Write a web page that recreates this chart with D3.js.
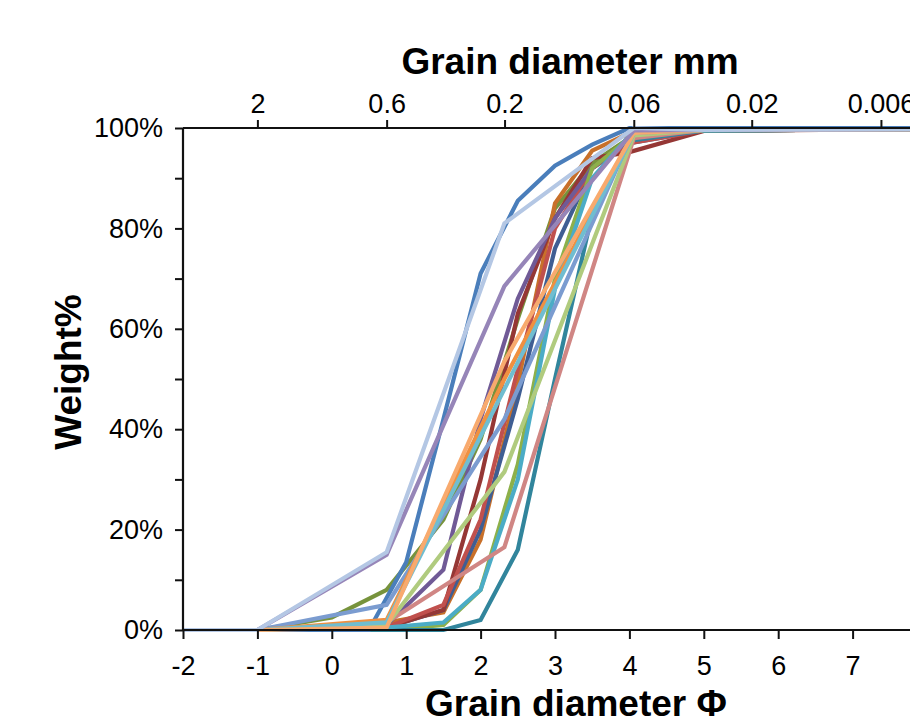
<!DOCTYPE html>
<html>
<head>
<meta charset="utf-8">
<script src="https://cdn.jsdelivr.net/npm/d3@7"></script>
<style>
  html, body { margin: 0; padding: 0; background: #fff; overflow: hidden; }
  svg { display: block; font-family: "Liberation Sans", Arial, Helvetica, sans-serif; }
</style>
</head>
<body>
<svg id="chart" width="910" height="719"></svg>
<script>
// ---- grids (phi positions of sieve points) ----
const phiFull  = [-2, -1, 0, 0.5, 1, 1.5, 2, 2.5, 3, 3.5, 4, 5, 8];
const phiSieve = [-2, -1, 0, 0.737, 1.5, 2, 2.5, 3, 3.5, 4, 5, 8];
const phiMm    = [-2, -1, 0.737, 2.32, 4.06, 5, 8];

// ---- cumulative weight % series ----
const seriesNames = ["green","orangeBrown","navy","darkRed","red","purple","green2","teal","aqua",
  "darkBlue","salmon","lightGreen","mediumBlue","brightOrange","lightTeal","peach","lavender","paleBlue"];
const seriesColors = ["#77933C","#C8702A","#3F5E93","#953735","#C0504D","#705A96","#8DB04A","#31859C","#4BACC6",
  "#4A7EBB","#D08684","#B0CB7E","#7B9CD0","#F09040","#70BDD0","#F8AA6E","#9685B8","#B4C7E4"];
const seriesGrid = ["sieve","sieve","sieve","sieve","sieve","sieve","sieve","sieve","sieve",
  "full","mm","mm","mm","mm","mm","mm","mm","mm"];

const green        = [0, 0, 2.5, 8, 22, 38, 62, 84, 93, 98, 99.5, 99.8];
const orangeBrown  = [0, 0, 0, 1.5, 3.5, 18, 49, 85, 95.5, 99, 99.6, 99.8];
const navy         = [0, 0, 0, 0.5, 4, 20, 46, 76, 92, 97, 99.5, 99.8];
const darkRed      = [0, 0, 0, 0.5, 4, 30, 63, 82, 94, 95.2, 99.4, 99.8];
const red          = [0, 0, 0, 0.5, 5, 22, 52, 80, 92, 97, 99.5, 99.8];
const purple       = [0, 0, 0, 1, 12, 42, 66, 82, 92, 97.5, 99.5, 99.8];
const green2       = [0, 0, 0, 0, 1, 8, 33, 70, 92, 98, 99.5, 99.8];
const teal         = [0, 0, 0, 0, 0, 2, 16, 50, 83, 97.5, 99.5, 99.8];
const aqua         = [0, 0, 0, 0.5, 1.5, 8, 30, 68, 90, 98.5, 99.5, 99.8];
const darkBlue     = [0, 0, 0, 0, 13.5, 42, 71, 85.5, 92.5, 96.7, 100, 100, 100];
const salmon       = [0, 0, 1.5, 16.5, 98, 99.6, 99.8];
const lightGreen   = [0, 0, 1, 31.5, 98.5, 99.6, 99.8];
const mediumBlue   = [0, 0, 5, 42, 99.5, 99.6, 99.8];
const brightOrange = [0, 0, 2, 50, 99, 99.6, 99.8];
const lightTeal    = [0, 0, 1.5, 48, 99, 99.6, 99.8];
const peach        = [0, 0, 0.5, 53.5, 99, 99.6, 99.8];
const lavender     = [0, 0, 15, 68.5, 99.5, 99.6, 99.8];
const paleBlue     = [0, 0, 15.5, 81, 100, 99.6, 99.8];

const seriesValues = [green, orangeBrown, navy, darkRed, red, purple, green2, teal, aqua,
  darkBlue, salmon, lightGreen, mediumBlue, brightOrange, lightTeal, peach, lavender, paleBlue];
const grids = { full: phiFull, sieve: phiSieve, mm: phiMm };

// ---- axis ticks ----
const phiTicks = [-2, -1, 0, 1, 2, 3, 4, 5, 6, 7];
const phiTickLabels = ["-2", "-1", "0", "1", "2", "3", "4", "5", "6", "7"];
const mmTicks = [2, 0.6, 0.2, 0.06, 0.02, 0.006];
const mmTickLabels = ["2", "0.6", "0.2", "0.06", "0.02", "0.006"];
const pctTicks = [0, 10, 20, 30, 40, 50, 60, 70, 80, 90, 100];

// ---- layout ----
const svg = d3.select("#chart");
const plotL = 183, plotR = 927, plotT = 128, plotB = 630;
const x = d3.scaleLinear().domain([-2, 8]).range([plotL, plotR]);
const y = d3.scaleLinear().domain([0, 100]).range([plotB, plotT]);

const line = d3.line().x(d => x(d[0])).y(d => y(d[1]));

const gLines = svg.append("g");
seriesValues.forEach((vals, i) => {
  const g = grids[seriesGrid[i]];
  const pts = vals.map((v, j) => [g[j], v]);
  gLines.append("path")
    .attr("d", line(pts))
    .attr("fill", "none")
    .attr("stroke", seriesColors[i])
    .attr("stroke-width", 4.2)
    .attr("stroke-linejoin", "miter");
});

const fontTick = 27;

// left axis
const yAxis = d3.axisLeft(y).tickValues(pctTicks).tickSize(8).tickPadding(12)
  .tickFormat(d => d % 20 === 0 ? d + "%" : "");
const gy = svg.append("g").attr("transform", `translate(${plotL},0)`).call(yAxis);

// bottom axis
const xAxis = d3.axisBottom(x).tickValues(phiTicks).tickSize(9).tickPadding(17)
  .tickFormat((d, i) => phiTickLabels[i]);
const gx = svg.append("g").attr("transform", `translate(0,${plotB})`).call(xAxis);

// top axis
const xTop = d3.axisTop(x).tickValues(mmTicks.map(d => -Math.log2(d))).tickSize(8).tickPadding(7)
  .tickFormat((d, i) => mmTickLabels[i]);
const gt = svg.append("g").attr("transform", `translate(0,${plotT})`).call(xTop);

[gy, gx, gt].forEach(g => {
  g.select(".domain").attr("stroke", "#111").attr("stroke-width", 2.2);
  g.selectAll(".tick line").attr("stroke", "#111").attr("stroke-width", 2);
  g.selectAll("text").attr("fill", "#000").style("font-size", fontTick + "px")
    .style("font-family", '"Liberation Sans", Arial, sans-serif');
});
gy.select(".domain").attr("d", `M0,${plotB}V${plotT}`);
gx.select(".domain").attr("d", `M${plotL},0H${plotR}`);
gt.select(".domain").attr("d", `M${plotL},0H${plotR}`);

// titles
svg.append("text").attr("x", 570).attr("y", 74).attr("text-anchor", "middle")
  .style("font-size", "37px").style("font-weight", "bold").text("Grain diameter mm");
svg.append("text").attr("x", 576).attr("y", 716).attr("text-anchor", "middle")
  .style("font-size", "37px").style("font-weight", "bold").text("Grain diameter Φ");
svg.append("text").attr("transform", "translate(81,372) rotate(-90)").attr("text-anchor", "middle")
  .style("font-size", "37px").style("font-weight", "bold").text("Weight%");
</script>
</body>
</html>
